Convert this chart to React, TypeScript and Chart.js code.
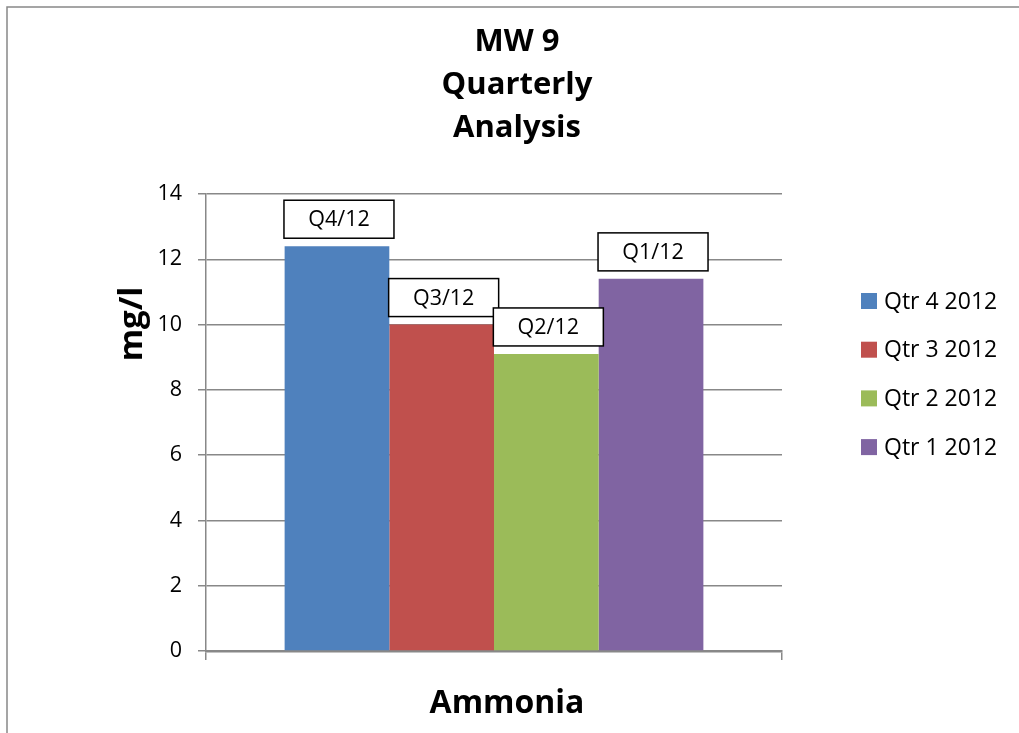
import React, { useEffect, useRef } from "react";
import { Chart, registerables } from "chart.js";

Chart.register(...registerables);

// Chart content
const categories = ["Ammonia"];
const seriesNames = ["Qtr 4 2012", "Qtr 3 2012", "Qtr 2 2012", "Qtr 1 2012"];
const seriesValues = [12.4, 10.0, 9.1, 11.4];
const barTags = ["Q4/12", "Q3/12", "Q2/12", "Q1/12"];
const seriesColors = ["#4F81BD", "#C0504D", "#9BBB59", "#8064A2"];
const titleLines = ["MW 9", "Quarterly", "Analysis"];
const yAxisTitle = "mg/l";
const xAxisTitle = categories[0];
const yMin = 0;
const yMax = 14;
const yStep = 2;

const FONT = "'Open Sans', 'Noto Sans', sans-serif";
const GRID = "#888888";

// Boxed tag above each bar
const barTagPlugin = {
  id: "barTags",
  afterDatasetsDraw(chart: any) {
    const ctx = chart.ctx;
    ctx.save();
    chart.data.datasets.forEach((ds: any, i: number) => {
      const meta = chart.getDatasetMeta(i);
      const el = meta.data[0];
      if (!el) return;
      const w = 110;
      const h = 38;
      const x = el.x - w / 2 + 2;
      const y = el.y - 8 - h;
      ctx.fillStyle = "#ffffff";
      ctx.fillRect(x, y, w, h);
      ctx.strokeStyle = "#000000";
      ctx.lineWidth = 1.5;
      ctx.strokeRect(x, y, w, h);
      ctx.fillStyle = "#000000";
      ctx.font = `21.5px ${FONT}`;
      ctx.textAlign = "center";
      ctx.textBaseline = "middle";
      ctx.fillText(barTags[i], x + w / 2, y + h / 2 + 1);
    });
    ctx.restore();
  },
};

// Frame, titles and legend
const decorPlugin = {
  id: "decor",
  afterDraw(chart: any) {
    const ctx = chart.ctx;
    ctx.save();
    ctx.strokeStyle = GRID;
    ctx.lineWidth = 1.5;
    ctx.strokeRect(7, 7, 1200, 1000);

    ctx.fillStyle = "#000000";
    ctx.font = `bold 31px ${FONT}`;
    ctx.textAlign = "center";
    ctx.textBaseline = "alphabetic";
    titleLines.forEach((line, i) => {
      ctx.fillText(line, 517, 51 + i * 43);
    });

    ctx.font = `bold 32px ${FONT}`;
    ctx.fillText(xAxisTitle, 507, 713);

    ctx.save();
    ctx.translate(142, 324);
    ctx.rotate(-Math.PI / 2);
    ctx.font = `bold 33px ${FONT}`;
    ctx.fillText(yAxisTitle, 0, 0);
    ctx.restore();

    ctx.font = `23px ${FONT}`;
    ctx.textAlign = "left";
    ctx.textBaseline = "middle";
    chart.data.datasets.forEach((ds: any, i: number) => {
      const cy = 301 + i * 48.7;
      ctx.fillStyle = ds.backgroundColor;
      ctx.fillRect(861, cy - 8, 16, 16);
      ctx.fillStyle = "#000000";
      ctx.fillText(ds.label, 884, cy + 1);
    });
    ctx.restore();
  },
};

export default function App() {
  const canvasRef = useRef<HTMLCanvasElement | null>(null);

  useEffect(() => {
    if (!canvasRef.current) return;
    const chart = new Chart(canvasRef.current, {
      type: "bar",
      data: {
        labels: categories,
        datasets: seriesNames.map((name, i) => ({
          label: name,
          data: [seriesValues[i]],
          backgroundColor: seriesColors[i],
          borderWidth: 0,
          barPercentage: 1,
          categoryPercentage: 0.727,
        })),
      },
      options: {
        responsive: false,
        animation: false,
        events: [],
        layout: { padding: { left: 0, top: 194, right: 237, bottom: 62 } },
        plugins: {
          legend: { display: false },
          title: { display: false },
          tooltip: { enabled: false },
        },
        scales: {
          x: {
            offset: true,
            ticks: { display: false },
            grid: {
              display: true,
              drawOnChartArea: false,
              drawTicks: true,
              tickLength: 9,
              color: GRID,
              lineWidth: 1.5,
              offset: true,
            },
            border: { display: true, color: GRID, width: 2.5 },
            afterFit(scale: any) {
              scale.height = 20;
            },
          },
          y: {
            min: yMin,
            max: yMax,
            ticks: {
              stepSize: yStep,
              padding: 16,
              color: "#000000",
              font: { family: FONT, size: 21.5 },
            },
            grid: {
              color: GRID,
              lineWidth: 1.5,
              drawTicks: true,
              tickLength: 8,
            },
            border: { display: true, color: GRID, width: 1.5 },
            afterFit(scale: any) {
              scale.width = 206;
            },
          },
        },
      },
      plugins: [barTagPlugin, decorPlugin],
    });
    return () => chart.destroy();
  }, []);

  return (
    <div style={{ position: "absolute", left: 0, top: 0, width: 1019, height: 733, background: "#ffffff" }}>
      <canvas ref={canvasRef} width={1019} height={733} style={{ display: "block" }} />
    </div>
  );
}
